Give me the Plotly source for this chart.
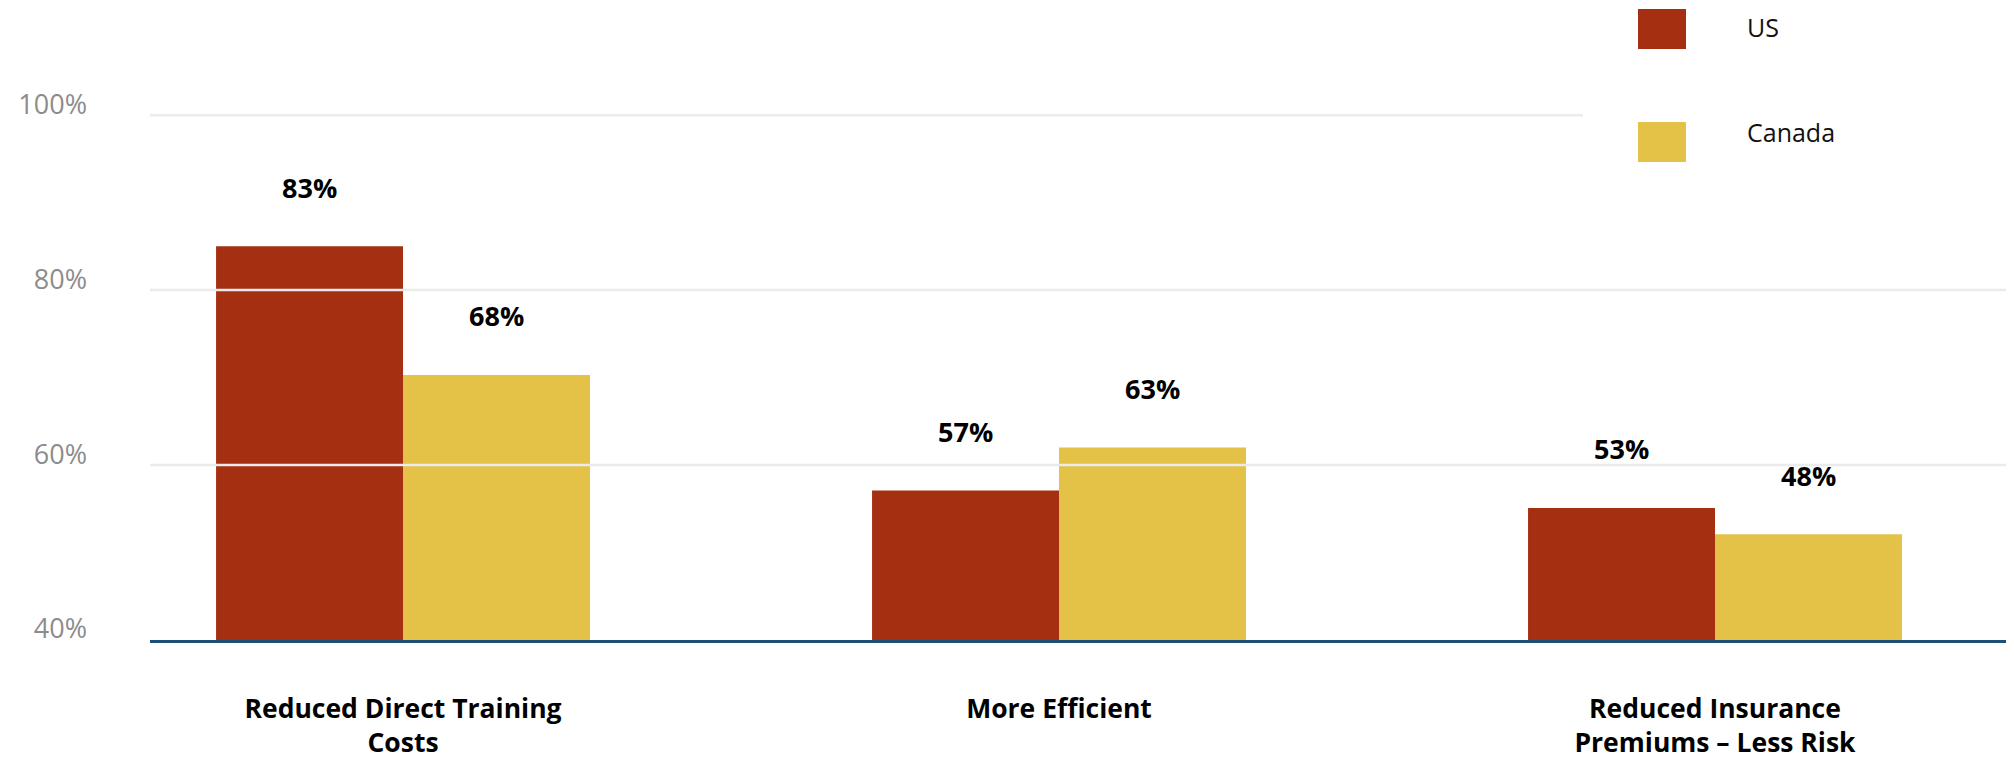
import plotly.graph_objects as go

# ---- data ----
categories = ["Reduced Direct Training<br>Costs", "More Efficient", "Reduced Insurance<br>Premiums – Less Risk"]
series_names = ["US", "Canada"]
us_values = [85.0, 57.1, 55.1]          # bar heights as drawn
canada_values = [70.3, 62.0, 52.1]
us_labels = ["83%", "57%", "53%"]       # printed data labels
canada_labels = ["68%", "63%", "48%"]
y_tick_values = [40, 60, 80, 100]
y_tick_labels = ["40%", "60%", "80%", "100%"]

# ---- style ----
US_COLOR = "#A52F11"
CA_COLOR = "#E3C247"
FONT = "Open Sans, Liberation Sans, Arial, sans-serif"
PAGE_OFF = 8                       # default body margin of the html page
W, H = 2006, 752
ML, MR, MT, MB = 142, 0, 0, 120
BARGAP = 0.43

def px2x(px):
    return (px - PAGE_OFF - ML) / (W - ML - MR)

def py2y(py):
    return (H - MB - (py - PAGE_OFF)) / (H - MT - MB)

fig = go.Figure()
fig.add_trace(go.Bar(x=categories, y=us_values, name=series_names[0],
                     marker=dict(color=US_COLOR, line=dict(width=0)), showlegend=False))
fig.add_trace(go.Bar(x=categories, y=canada_values, name=series_names[1],
                     marker=dict(color=CA_COLOR, line=dict(width=0)), showlegend=False))

half = (1 - BARGAP) / 4
label_font = dict(family=FONT, size=27, color="#000000", weight="bold")
annotations = []
for i, (v, t) in enumerate(zip(us_values, us_labels)):
    annotations.append(dict(x=i - half, y=v, xref="x", yref="y", text=t, showarrow=False,
                            yshift=59, yanchor="middle", font=label_font))
for i, (v, t) in enumerate(zip(canada_values, canada_labels)):
    annotations.append(dict(x=i + half, y=v, xref="x", yref="y", text=t, showarrow=False,
                            yshift=59, yanchor="middle", font=label_font))

shapes = []
for v in y_tick_values[1:]:
    shapes.append(dict(type="line", xref="paper", x0=0, x1=1, yref="y", y0=v, y1=v,
                       line=dict(color="#ebebeb", width=2.5), layer="above"))
# legend panel (white box covering gridline)
shapes.append(dict(type="rect", xref="paper", yref="paper", x0=px2x(1583), x1=1.0,
                   y0=py2y(200), y1=1.0, fillcolor="white", line=dict(width=0), layer="above"))
legend_rows = [(series_names[0], US_COLOR, 9, 49), (series_names[1], CA_COLOR, 122, 162)]
for name, col, top, bot in legend_rows:
    shapes.append(dict(type="rect", xref="paper", yref="paper", x0=px2x(1638), x1=px2x(1686),
                       y0=py2y(bot), y1=py2y(top), fillcolor=col, line=dict(width=0), layer="above"))
legend_font = dict(family=FONT, size=25, color="#111111")
annotations.append(dict(x=px2x(1745), y=1.0, xref="paper", yref="paper", text=series_names[0],
                        showarrow=False, xanchor="left", yanchor="top", font=legend_font))
annotations.append(dict(x=px2x(1745), y=py2y(132), xref="paper", yref="paper", text=series_names[1],
                        showarrow=False, xanchor="left", yanchor="middle", font=legend_font))

fig.update_layout(
    width=W, height=H,
    margin=dict(l=ML, r=MR, t=MT, b=MB),
    paper_bgcolor="white", plot_bgcolor="white",
    barmode="group", bargap=BARGAP, bargroupgap=0,
    showlegend=False,
    annotations=annotations, shapes=shapes,
    xaxis=dict(range=[-0.3857, 2.4558], showgrid=False, zeroline=False, automargin=False,
               showline=True, linecolor="#1F4E79", linewidth=3, ticks="",
               ticklabelstandoff=43, layer="above traces",
               tickfont=dict(family=FONT, size=26.5, color="#000000", weight="bold")),
    yaxis=dict(range=[40, 112.25], tickvals=y_tick_values, ticktext=y_tick_labels,
               showgrid=False, zeroline=False, showline=False, ticks="", automargin=False,
               ticklabelstandoff=62, ticklabelshift=-11,
               tickfont=dict(family=FONT, size=27, color="#8c8c8c")),
)

fig.write_html("out.html")
